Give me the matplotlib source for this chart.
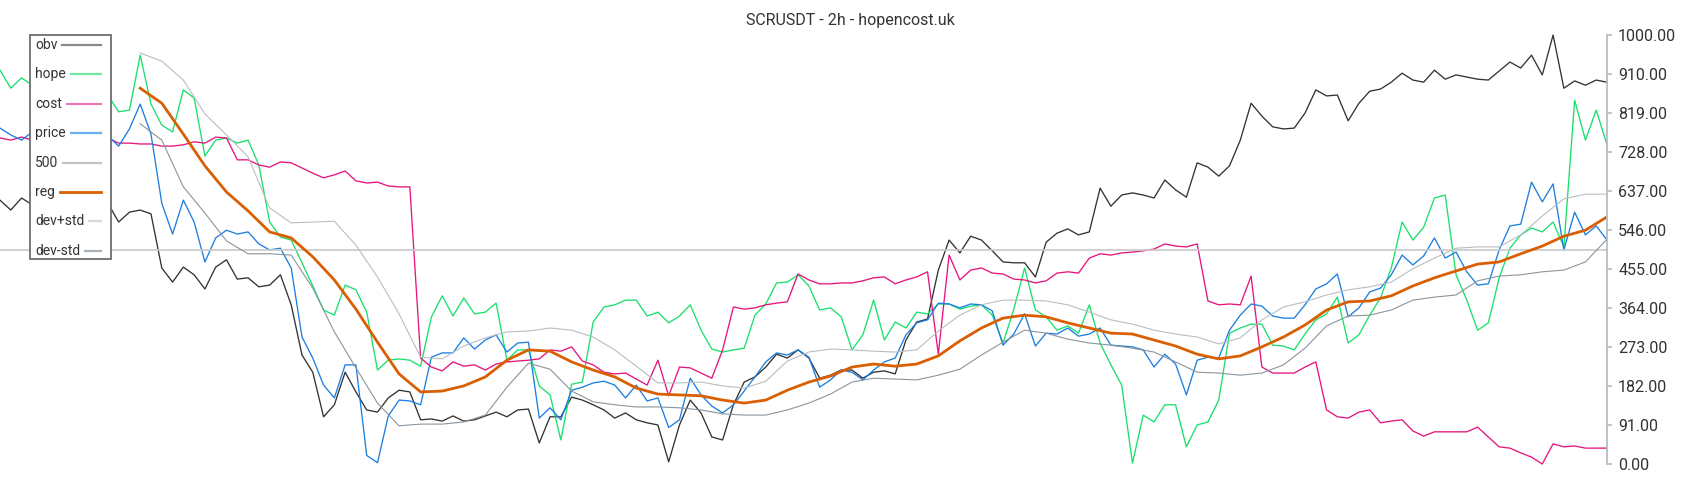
import numpy as np
import matplotlib.pyplot as plt
from matplotlib.lines import Line2D
from matplotlib.patches import Rectangle

plt.rcParams['font.family'] = ['Roboto', 'DejaVu Sans']

title = 'SCRUSDT - 2h - hopencost.uk'
yticks = [0, 91, 182, 273, 364, 455, 546, 637, 728, 819, 910, 1000]
level = 500

# raw series, one value every 2 bars
obv = [615, 592, 620, 604, 587, 564, 583, 557, 573, 597,
       608, 564, 587, 592, 583, 457, 424, 459, 441, 408,
       459, 476, 431, 434, 413, 417, 441, 371, 254, 214,
       110, 138, 214, 168, 126, 121, 154, 172, 168, 103,
       105, 100, 112, 100, 103, 112, 121, 110, 126, 128,
       49, 110, 110, 156, 149, 138, 126, 107, 119, 103,
       96, 91, 5, 91, 149, 119, 63, 56, 138, 191,
       203, 226, 256, 247, 266, 247, 200, 207, 219, 219,
       200, 214, 217, 210, 289, 331, 338, 452, 522, 492,
       531, 522, 497, 471, 469, 469, 436, 517, 538, 548,
       534, 541, 643, 601, 627, 632, 627, 620, 662, 639,
       622, 702, 692, 671, 695, 755, 841, 811, 786, 781,
       783, 818, 872, 858, 860, 800, 841, 869, 874, 890,
       911, 895, 890, 918, 897, 907, 902, 897, 895, 916,
       937, 923, 953, 907, 1000, 876, 893, 883, 895, 890]

hope = [918, 876, 900, 883, 848, 872, 837, 860, 825, 848,
        860, 821, 825, 953, 839, 790, 774, 872, 853, 718,
        755, 760, 748, 755, 697, 564, 529, 522, 469, 415,
        359, 347, 417, 406, 354, 219, 242, 245, 242, 228,
        343, 392, 345, 387, 350, 354, 375, 242, 266, 266,
        182, 161, 56, 186, 191, 331, 366, 371, 382, 382,
        345, 354, 329, 345, 371, 312, 268, 261, 266, 270,
        347, 373, 422, 424, 441, 415, 359, 364, 343, 266,
        301, 382, 289, 331, 317, 354, 350, 373, 373, 361,
        368, 371, 347, 282, 361, 457, 359, 343, 312, 322,
        305, 371, 282, 231, 184, 2, 114, 98, 138, 138,
        40, 91, 98, 149, 305, 317, 326, 326, 277, 275,
        266, 303, 336, 350, 389, 282, 301, 347, 387, 457,
        564, 522, 552, 620, 627, 441, 382, 312, 329, 434,
        503, 534, 550, 541, 564, 506, 848, 755, 825, 744]

cost = [760, 755, 762, 755, 751, 753, 748, 755, 751, 753,
        760, 748, 748, 746, 746, 741, 741, 744, 751, 748,
        762, 760, 709, 709, 697, 692, 704, 702, 690, 678,
        667, 674, 683, 660, 655, 657, 648, 646, 646, 247,
        226, 217, 238, 228, 231, 219, 233, 238, 240, 242,
        245, 266, 263, 273, 240, 231, 214, 210, 212, 198,
        184, 242, 159, 226, 224, 212, 200, 266, 366, 361,
        364, 371, 375, 378, 443, 429, 420, 420, 422, 422,
        427, 434, 436, 420, 429, 436, 448, 256, 487, 429,
        452, 457, 445, 443, 431, 429, 422, 427, 445, 448,
        445, 480, 490, 487, 492, 494, 497, 501, 513, 508,
        506, 513, 380, 371, 373, 371, 438, 226, 212, 212,
        212, 226, 238, 126, 110, 107, 121, 126, 96, 100,
        103, 77, 65, 75, 75, 75, 75, 86, 63, 40,
        37, 26, 16, 0, 47, 40, 42, 37, 37, 37]

price = [783, 767, 755, 774, 783, 760, 779, 755, 767, 751,
         765, 741, 781, 839, 769, 608, 536, 615, 564, 471,
         527, 545, 536, 541, 513, 499, 503, 457, 296, 247,
         184, 154, 231, 231, 20, 3, 112, 149, 147, 138,
         249, 259, 259, 294, 268, 289, 301, 261, 282, 284,
         107, 131, 103, 172, 179, 189, 193, 184, 154, 184,
         147, 154, 85, 103, 200, 161, 135, 119, 138, 170,
         203, 238, 259, 254, 266, 249, 179, 196, 219, 214,
         196, 219, 238, 247, 301, 329, 336, 375, 373, 364,
         373, 371, 357, 277, 303, 350, 275, 305, 303, 317,
         298, 303, 317, 277, 275, 273, 266, 226, 256, 233,
         161, 242, 249, 247, 312, 347, 373, 368, 345, 340,
         340, 371, 408, 420, 443, 343, 364, 401, 410, 441,
         487, 464, 485, 527, 480, 494, 448, 417, 420, 499,
         555, 559, 657, 611, 653, 499, 587, 534, 555, 522]

# smoothed series, one value every 4 bars from bar 26
reg = [876, 841, 769, 695, 634, 590, 541, 527, 483, 429,
       361, 284, 210, 168, 170, 182, 203, 242, 266, 263,
       238, 219, 203, 177, 163, 161, 159, 149, 142, 149,
       172, 191, 205, 226, 233, 228, 233, 252, 287, 317,
       340, 347, 343, 329, 317, 305, 303, 289, 275, 256,
       245, 252, 273, 296, 324, 359, 378, 380, 392, 415,
       434, 450, 466, 471, 490, 508, 531, 545, 576]

dev_up = [958, 939, 895, 816, 767, 716, 597, 562, 564, 566,
          510, 436, 350, 249, 245, 275, 294, 308, 310, 317,
          312, 296, 266, 228, 189, 189, 191, 182, 177, 193,
          240, 261, 268, 266, 263, 261, 266, 310, 347, 371,
          382, 382, 380, 371, 354, 336, 326, 312, 303, 296,
          280, 294, 336, 366, 378, 394, 406, 413, 424, 455,
          480, 503, 506, 506, 534, 578, 618, 629, 629]

dev_dn = [793, 755, 646, 585, 520, 490, 490, 487, 410, 308,
          224, 142, 89, 93, 93, 98, 114, 179, 235, 221,
          170, 145, 138, 133, 133, 131, 126, 117, 114, 114,
          126, 142, 163, 191, 200, 198, 196, 207, 221, 254,
          284, 312, 305, 291, 282, 277, 270, 261, 238, 214,
          212, 207, 212, 231, 270, 322, 345, 347, 359, 382,
          389, 394, 427, 438, 441, 448, 452, 471, 524]

bars = np.arange(len(obv))
smooth_start = len(obv) - 2 * len(reg) + 1
bars_smooth = smooth_start + 2 * np.arange(len(reg))

fig = plt.figure(figsize=(17, 5), dpi=100)
ax = fig.add_axes([0, 0.072, 0.9453, 0.858])

ax.plot(bars, obv, color='#333333', lw=0.95, clip_on=False)
ax.plot(bars, hope, color='#19e06b', lw=0.95, clip_on=False)
ax.plot(bars, cost, color='#e5157d', lw=0.95, clip_on=False)
ax.plot(bars, price, color='#1c7fe0', lw=0.95, clip_on=False)
ax.axhline(level, color='#c8c8c8', lw=1.2)
ax.plot(bars_smooth, reg, color='#d95f02', lw=2.0)
ax.plot(bars_smooth, dev_up, color='#b9bdc2', lw=0.8)
ax.plot(bars_smooth, dev_dn, color='#8a959e', lw=0.8)

ax.set_xlim(0, len(obv) - 1)
ax.set_ylim(0, 1000)
for s in ['top', 'left', 'bottom']:
    ax.spines[s].set_visible(False)
ax.spines['right'].set_color('#b3bec5')
ax.spines['right'].set_linewidth(1.3)
ax.set_xticks([])
ax.yaxis.tick_right()
ax.set_yticks(yticks)
ax.set_yticklabels([f'{v:.2f}' for v in yticks])
ax.tick_params(axis='y', colors='#b3bec5', labelcolor='#333333',
               length=3.5, width=1.2, pad=4.5, labelsize=11.5)

fig.text(0.5, 1 - 20 / 500, title, ha='center', va='center',
         fontsize=11.5, color='#333333')

# legend drawn by hand: label left, line stretched to the right edge
W, H = 1700, 500
labels = ['obv', 'hope', 'cost', 'price', '500', 'reg', 'dev+std', 'dev-std']
leg_colors = ['#8a8a8a', '#72e8a2', '#ee78b6', '#6cb0f0',
              '#c4c4c4', '#d95f02', '#d5d9dd', '#a8b2ba']
leg_widths = [1.6, 1.6, 1.6, 1.6, 1.6, 2.0, 1.6, 1.6]

fig.patches.append(Rectangle((30 / W, 1 - 259 / H), 81 / W, 224 / H,
                             transform=fig.transFigure, fc='white',
                             ec='#6e6e6e', lw=1.3, zorder=5))
texts = []
for i, lab in enumerate(labels):
    y = 1 - (45 + 29.4 * i) / H
    t = fig.text(35 / W, y, lab, ha='left', va='center', fontsize=10,
                 color='#333333', zorder=6)
    texts.append((t, y))

fig.canvas.draw()
r = fig.canvas.get_renderer()
for (t, y), c, w in zip(texts, leg_colors, leg_widths):
    x0 = t.get_window_extent(r).x1 / W + 5 / W
    fig.add_artist(Line2D([x0, 100.5 / W], [y, y], transform=fig.transFigure,
                          color=c, lw=w, zorder=6))

fig.savefig('out.png', dpi=100)
